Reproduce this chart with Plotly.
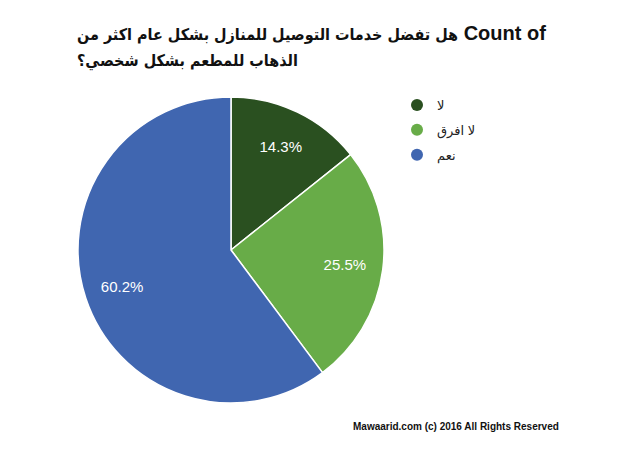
import plotly.graph_objects as go

labels = ["لا", "لا افرق", "نعم"]
counts = [14, 25, 59]
colors = ["#2a5020", "#68ac48", "#4066b0"]

title_ar_line1 = "هل تفضل خدمات التوصيل للمنازل بشكل عام اكثر من"
title_en = "Count of"
title_ar_line2 = "الذهاب للمطعم بشكل شخصي؟"
footer = "Mawaarid.com (c) 2016 All Rights Reserved"

RLM = "\u200f"  # keeps the question mark inside the right-to-left run

AR = "font-size:16px;font-family:'DejaVu Sans Condensed','DejaVu Sans',sans-serif"
title_html = (
    "<b><span style=\"" + AR + "\">" + title_ar_line1 + "</span> "
    + title_en + "<br><span style=\"" + AR + "\">" + title_ar_line2 + RLM
    + "</span></b>"
)

fig = go.Figure()

# base pie: slices and borders
fig.add_trace(go.Pie(
    labels=labels, values=counts, sort=False, direction="clockwise", rotation=0,
    marker=dict(colors=colors, line=dict(color="white", width=1.5)),
    textinfo="none", showlegend=False,
    domain=dict(x=[78 / 619, 384 / 619], y=[47 / 450, 353 / 450]),
    hoverinfo="label+percent",
))

# transparent ring on top, only to place the percentage labels further out
fig.add_trace(go.Pie(
    labels=labels, values=counts, sort=False, direction="clockwise", rotation=0,
    hole=0.5,
    marker=dict(colors=["rgba(0,0,0,0)"] * 3, line=dict(width=0)),
    texttemplate="%{percent:.1%}", textposition="inside",
    insidetextorientation="horizontal",
    textfont=dict(color="white", size=15, family="Arial, Liberation Sans, sans-serif"),
    showlegend=False, hoverinfo="skip",
    domain=dict(x=[78 / 619, 384 / 619], y=[47 / 450, 353 / 450]),
))

for lab, col in zip(labels, colors):
    fig.add_trace(go.Scatter(
        x=[None], y=[None], mode="markers", name=lab,
        marker=dict(symbol="circle", size=18, color=col),
        legendgroup=lab,
    ))

fig.update_layout(
    width=619, height=450,
    margin=dict(l=0, r=0, t=0, b=0),
    paper_bgcolor="white", plot_bgcolor="white",
    xaxis=dict(visible=False), yaxis=dict(visible=False),
    legend=dict(
        x=397 / 619, y=1 - 90 / 450, xanchor="left", yanchor="top",
        font=dict(size=13, color="#222222", family="Arial, Liberation Sans, DejaVu Sans, sans-serif"),
        traceorder="grouped", tracegroupgap=5,
        itemsizing="constant", bgcolor="rgba(0,0,0,0)",
    ),
    annotations=[
        dict(
            text=title_html,
            x=75 / 619, y=1 - 20 / 450, xref="paper", yref="paper",
            xanchor="left", yanchor="top", align="left", showarrow=False,
            font=dict(size=20, color="#111111", family="Arial, Liberation Sans, DejaVu Sans, sans-serif"),
        ),
        dict(
            text="<b>" + footer + "</b>",
            x=561 / 619, y=1 - 426 / 450, xref="paper", yref="paper",
            xanchor="right", yanchor="middle", showarrow=False,
            font=dict(size=10, color="#111111", family="Arial, Liberation Sans, sans-serif"),
        ),
    ],
)

fig.write_html("out.html")
